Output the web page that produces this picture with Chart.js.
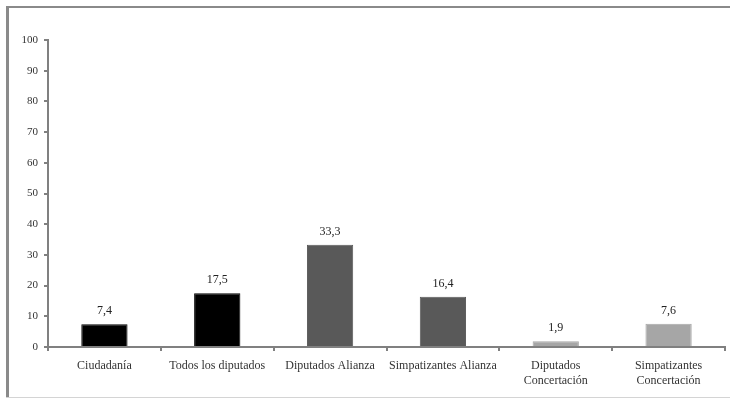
<!DOCTYPE html>
<html>
<head>
<meta charset="utf-8">
<script src="https://cdn.jsdelivr.net/npm/chart.js@4/dist/chart.umd.min.js"></script>
<style>
  html, body { margin: 0; padding: 0; background: #fff; }
  #wrap { width: 730px; height: 401px; position: relative; }
</style>
</head>
<body>
<div id="wrap"><canvas id="barChart" width="730" height="401"></canvas></div>
<script>
const categories = ['Ciudadanía', 'Todos los diputados', 'Diputados Alianza', 'Simpatizantes Alianza', ['Diputados', 'Concertación'], ['Simpatizantes', 'Concertación']];
const values = [7.4, 17.5, 33.3, 16.4, 1.9, 7.6];
const barColors = ['#000000', '#000000', '#595959', '#595959', '#a6a6a6', '#a6a6a6'];
const yTicks = [0, 10, 20, 30, 40, 50, 60, 70, 80, 90, 100];

const serif = '"Liberation Serif", "DejaVu Serif", serif';

// outer frame like the scanned figure
const framePlugin = {
  id: 'frame',
  beforeDraw(chart) {
    const ctx = chart.ctx;
    ctx.save();
    ctx.fillStyle = '#fff';
    ctx.fillRect(0, 0, chart.width, chart.height);
    ctx.fillStyle = '#8a8a8a';
    ctx.fillRect(6, 6, 3, 392);
    ctx.fillRect(6, 6, 724, 2);
    ctx.fillStyle = '#d4d4d4';
    ctx.fillRect(6, 397, 724, 1);
    ctx.restore();
  }
};

// values over the bars, decimal comma
const valueLabels = {
  id: 'valueLabels',
  afterDatasetsDraw(chart) {
    const ctx = chart.ctx;
    const meta = chart.getDatasetMeta(0);
    ctx.save();
    ctx.font = '12px ' + serif;
    ctx.fillStyle = '#222';
    ctx.textAlign = 'center';
    ctx.textBaseline = 'bottom';
    meta.data.forEach((bar, i) => {
      ctx.fillText(values[i].toFixed(1).replace('.', ','), bar.x, bar.y - 7);
    });
    ctx.restore();
  }
};

new Chart(document.getElementById('barChart'), {
  type: 'bar',
  data: {
    labels: categories,
    datasets: [{
      data: values,
      backgroundColor: barColors,
      borderColor: barColors,
      borderWidth: 1,
      barPercentage: 1,
      categoryPercentage: 0.41
    }]
  },
  options: {
    responsive: false,
    animation: false,
    layout: { padding: { top: 40, left: 8, right: 5, bottom: 10 } },
    plugins: { legend: { display: false }, tooltip: { enabled: false } },
    scales: {
      x: {
        afterFit: s => { s.height = 44; },
        border: { color: '#808080', width: 2 },
        grid: { offset: true, drawOnChartArea: false, drawTicks: true, tickLength: 4, color: '#808080', lineWidth: 2 },
        ticks: { color: '#333', font: { family: serif, size: 12 }, padding: 8, maxRotation: 0, autoSkip: false }
      },
      y: {
        min: 0,
        max: 100,
        afterFit: s => { s.width = 40; },
        afterBuildTicks: s => { s.ticks = yTicks.map(v => ({ value: v })); },
        border: { color: '#808080', width: 2 },
        grid: { drawOnChartArea: false, drawTicks: true, tickLength: 4, color: '#808080', lineWidth: 2 },
        ticks: { color: '#333', font: { family: serif, size: 11 }, padding: 6 }
      }
    }
  },
  plugins: [framePlugin, valueLabels]
});
</script>
</body>
</html>
